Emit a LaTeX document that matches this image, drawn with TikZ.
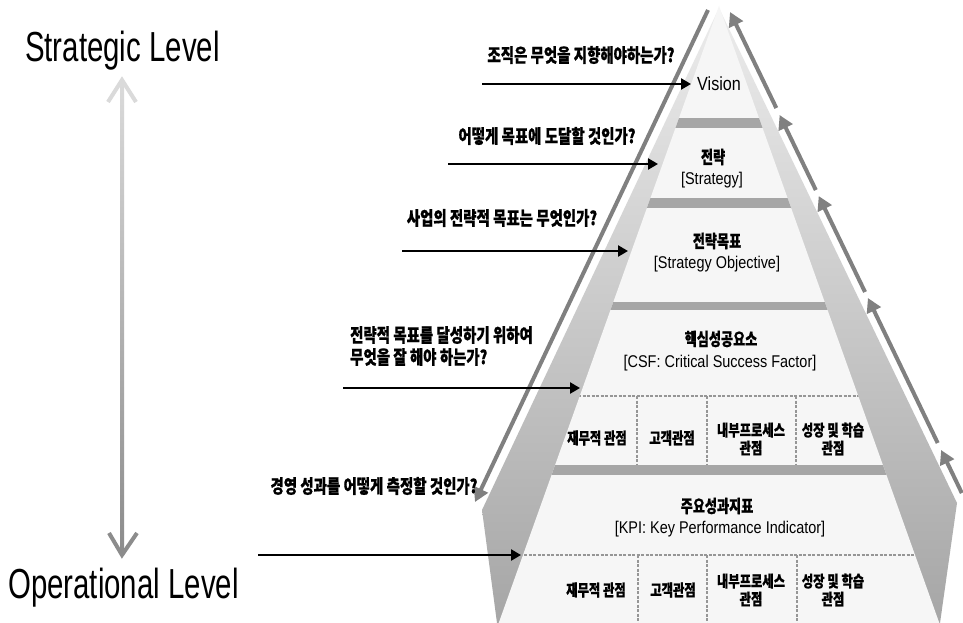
\documentclass[tikz,border=0pt]{standalone}
\usepackage{fontspec}
\usetikzlibrary{arrows.meta}
\newfontfamily\krq{Noto Sans CJK KR}[FakeStretch=0.76, BoldFeatures={FakeBold=0.6}]
\newfontfamily\krl{Noto Sans CJK KR}[FakeStretch=0.75, BoldFeatures={FakeBold=0.6}]
\newfontfamily\krc{Noto Sans CJK KR}[FakeStretch=0.77, BoldFeatures={FakeBold=0.6}]
\newfontfamily\lat{Liberation Sans}[FakeStretch=0.85]
\newfontfamily\lvl{Liberation Sans}[FakeStretch=0.70]
\definecolor{innerfill}{RGB}{246,246,246}
\definecolor{bandtop}{RGB}{236,236,236}
\definecolor{bandbot}{RGB}{166,166,166}
\definecolor{bargray}{RGB}{166,166,166}
\definecolor{sidegray}{RGB}{128,128,128}
\definecolor{dashgray}{RGB}{150,150,150}
\definecolor{lvtop}{RGB}{218,218,218}
\definecolor{lvbot}{RGB}{140,140,140}
\tikzset{
  qtext/.style={font=\krq\bfseries\fontsize{19}{22}\selectfont, inner sep=0pt},
  labtext/.style={font=\krl\bfseries\fontsize{17.5}{20}\selectfont, inner sep=0pt},
  engtext/.style={font=\lat\fontsize{17}{20}\selectfont, inner sep=0pt},
  celltext/.style={font=\krc\bfseries\fontsize{16}{18}\selectfont, align=center, inner sep=0pt},
  leveltext/.style={font=\lvl\fontsize{42}{48}\selectfont, inner sep=0pt},
  qarrow/.style={line width=2.5pt, -{Triangle[length=10pt,width=11pt]}},
  sidearrow/.style={line width=4pt, draw=sidegray, -{Triangle[length=14pt,width=15pt]}},
  dashline/.style={draw=dashgray, line width=1.2pt, dash pattern=on 3pt off 1.5pt},
}
\begin{document}
\begin{tikzpicture}[x=1pt,y=-1pt]
\useasboundingbox (0,0) rectangle (963,623);
\fill[white] (0,0) rectangle (963,623);
% outer band
\shade[top color=bandtop, bottom color=bandbot] (719,8) -- (957,503) -- (940,623) -- (497,623) -- (482,510) -- cycle;
% inner pyramid
\fill[innerfill] (719,6) -- (939.3,623) -- (498.7,623) -- cycle;
\begin{scope}
  \clip (719,6) -- (939.3,623) -- (498.7,623) -- cycle;
  \fill[bargray] (470,118) rectangle (960,128);
  \fill[bargray] (470,198) rectangle (960,208);
  \fill[bargray] (470,302) rectangle (960,310);
  \fill[bargray] (470,465) rectangle (960,475);
  \draw[dashline] (470,396) -- (960,396);
  \draw[dashline] (470,555) -- (960,555);
\end{scope}
\draw[dashline] (637,396) -- (637,465);
\draw[dashline] (707,396) -- (707,465);
\draw[dashline] (796,396) -- (796,465);
\draw[dashline] (638,555) -- (638,623);
\draw[dashline] (707,555) -- (707,623);
\draw[dashline] (797,555) -- (797,623);
% side arrows
\coordinate (L1) at (708,10);
\coordinate (L2) at (475,502);
\draw[sidearrow] (L1) -- (L2);
\coordinate (R1t) at (730,12);   \coordinate (R1b) at (776.3,108);
\coordinate (R2t) at (779.6,115); \coordinate (R2b) at (815.8,190);
\coordinate (R3t) at (818.7,196); \coordinate (R3b) at (865,292);
\coordinate (R4t) at (867.9,298); \coordinate (R4b) at (937.7,443);
\coordinate (R5t) at (941.1,450); \coordinate (R5b) at (961.8,493);
\draw[sidearrow] (R1b) -- (R1t);
\draw[sidearrow] (R2b) -- (R2t);
\draw[sidearrow] (R3b) -- (R3t);
\draw[sidearrow] (R4b) -- (R4t);
\draw[sidearrow] (R5b) -- (R5t);
% level arrow
\node[leveltext, anchor=base west] (strat) at (25,62) {Strategic Level};
\node[leveltext, anchor=base west] (oper) at (8,598) {Operational Level};
\coordinate (lvA) at (122,80);
\coordinate (lvB) at (122,555);
\shade[top color=lvtop, bottom color=lvbot] (120,84) rectangle (124,551);
\draw[lvtop, line width=4pt, line join=miter] (108,102) -- (lvA) -- (136,102);
\draw[lvbot, line width=4pt, line join=miter] (109,533) -- (lvB) -- (137,533);
% questions
\node[qtext] (q1) at (581,55) {조직은 무엇을 지향해야하는가?};
\node[qtext] (q2) at (547,136) {어떻게 목표에 도달할 것인가?};
\node[qtext] (q3) at (502,218) {사업의 전략적 목표는 무엇인가?};
\node[qtext, anchor=west, align=left] (q4) at (350,346) {전략적 목표를 달성하기 위하여\\무엇을 잘 해야 하는가?};
\node[qtext] (q5) at (374,486) {경영 성과를 어떻게 측정할 것인가?};
\coordinate (a1s) at (482,84);  \coordinate (a1e) at (691,84);
\coordinate (a2s) at (448,164); \coordinate (a2e) at (658,164);
\coordinate (a3s) at (402,251); \coordinate (a3e) at (628,251);
\coordinate (a4s) at (343,388); \coordinate (a4e) at (580,388);
\coordinate (a5s) at (258,555); \coordinate (a5e) at (521,555);
\draw[qarrow] (a1s) -- (a1e);
\draw[qarrow] (a2s) -- (a2e);
\draw[qarrow] (a3s) -- (a3e);
\draw[qarrow] (a4s) -- (a4e);
\draw[qarrow] (a5s) -- (a5e);
% pyramid labels
\node[font=\lat\fontsize{19}{22}\selectfont, inner sep=0pt, anchor=west] (vision) at (697,84) {Vision};
\node[labtext] (str) at (713,157) {전략};
\node[engtext] (stre) at (712,180) {[Strategy]};
\node[labtext] (so) at (717,241) {전략목표};
\node[engtext] (soe) at (717,264) {[Strategy Objective]};
\node[labtext] (csf) at (721,339) {핵심성공요소};
\node[engtext] (csfe) at (720,363) {[CSF: Critical Success Factor]};
\node[labtext] (kpi) at (717,506) {주요성과지표};
\node[engtext] (kpie) at (720,529) {[KPI: Key Performance Indicator]};
% cells row 1
\node[celltext] (c11) at (597,438) {재무적 관점};
\node[celltext] (c12) at (672,438) {고객관점};
\node[celltext] (c13) at (751,439) {내부프로세스\\관점};
\node[celltext] (c14) at (833,439) {성장 및 학습\\관점};
% cells row 2
\node[celltext] (c21) at (596,590) {재무적 관점};
\node[celltext] (c22) at (673,590) {고객관점};
\node[celltext] (c23) at (751,590) {내부프로세스\\관점};
\node[celltext] (c24) at (833,590) {성장 및 학습\\관점};
\end{tikzpicture}
\end{document}
